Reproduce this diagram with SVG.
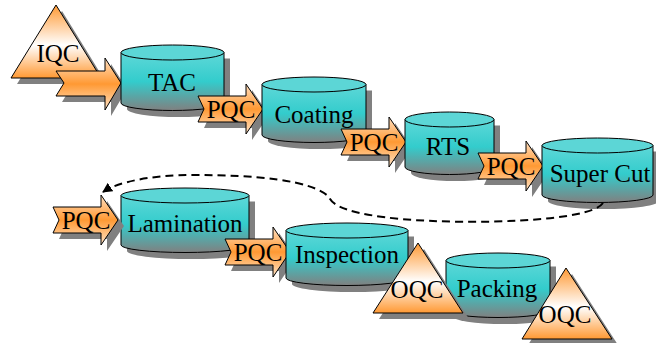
<svg xmlns="http://www.w3.org/2000/svg" width="656" height="343" viewBox="0 0 656 343">
<style>
.sh{fill:#808080;stroke:none}
.cyl{fill:url(#gCyl);stroke:#000;stroke-width:1}
.top{fill:#5cd6d6;stroke:#000;stroke-width:1}
.tri{fill:url(#gTri);stroke:#000;stroke-width:1}
.arr{fill:url(#gArr);stroke:#000;stroke-width:1}
.t{font-family:"Times New Roman",Times,"Liberation Serif",Tinos,"Nimbus Roman",serif;font-size:25px;fill:#000;text-anchor:middle}
.conn{fill:none;stroke:#000;stroke-width:2;stroke-dasharray:8 5}
</style>
<defs>
<linearGradient id="gCyl" x1="0" y1="0" x2="0" y2="1">
<stop offset="0" stop-color="#5ed8d8"/>
<stop offset="0.5" stop-color="#33cccc"/>
<stop offset="1" stop-color="#808080"/>
</linearGradient>
<linearGradient id="gTri" x1="0" y1="0" x2="0" y2="1">
<stop offset="0" stop-color="#ff9933"/>
<stop offset="0.55" stop-color="#ffffff"/>
<stop offset="1" stop-color="#ff9933"/>
</linearGradient>
<linearGradient id="gArr" x1="0" y1="0" x2="0" y2="1">
<stop offset="0" stop-color="#ffe0c2"/>
<stop offset="0.5" stop-color="#ff9933"/>
<stop offset="1" stop-color="#ffe4c8"/>
</linearGradient>
<path id="pqc" d="M0,12 L48,12 L48,0 L65,25 L48,50 L48,38 L0,38 L6,25 Z"/>
<marker id="ah" markerWidth="10" markerHeight="10" refX="9" refY="5" orient="auto" markerUnits="userSpaceOnUse">
<path d="M0,0 L10,5 L0,10 Z" fill="#000"/>
</marker>
</defs>

<g id="iqc">
<polygon class="sh" points="62,11 17,84 107,84"/>
<polygon class="tri" points="56,5 11,78 101,78"/>
<text class="t" x="58" y="62">IQC</text>
</g>

<g id="inArrow">
<path class="sh" d="M62,77 L111,77 L111,64 L127,89 L111,116 L111,102 L62,102 L70,89 Z"/>
<path class="arr" d="M56,71 L105,71 L105,58 L121,83 L105,110 L105,96 L56,96 L64,83 Z"/>
</g>

<g id="tac">
<path class="sh" d="M127,58.5 L127,109 A51.5,8 0 0 0 230,109 L230,58.5 Z"/>
<path class="cyl" d="M121,52.5 L121,103 A51.5,7.5 0 0 0 224,103 L224,52.5 Z"/>
<ellipse class="top" cx="172.5" cy="52.5" rx="51.5" ry="7.5"/>
<text class="t" x="172" y="91">TAC</text>
</g>

<g id="pqc1">
<use href="#pqc" class="sh" x="204" y="90"/>
<use href="#pqc" class="arr" x="198" y="84"/>
<text class="t" x="231" y="118">PQC</text>
</g>

<g id="coating">
<path class="sh" d="M268,90.5 L268,141 A52,8 0 0 0 372,141 L372,90.5 Z"/>
<path class="cyl" d="M262,84.5 L262,135 A52,7.5 0 0 0 366,135 L366,84.5 Z"/>
<ellipse class="top" cx="314" cy="84.5" rx="52" ry="7.5"/>
<text class="t" x="314" y="123">Coating</text>
</g>

<g id="pqc2">
<use href="#pqc" class="sh" x="347" y="123"/>
<use href="#pqc" class="arr" x="341" y="117"/>
<text class="t" x="374" y="151">PQC</text>
</g>

<g id="rts">
<path class="sh" d="M411,125.5 L411,173 A44.5,8 0 0 0 500,173 L500,125.5 Z"/>
<path class="cyl" d="M405,119.5 L405,167 A44.5,7.5 0 0 0 494,167 L494,119.5 Z"/>
<ellipse class="top" cx="449.5" cy="119.5" rx="44.5" ry="7.5"/>
<text class="t" x="448" y="155">RTS</text>
</g>

<g id="pqc3">
<use href="#pqc" class="sh" x="484" y="147"/>
<use href="#pqc" class="arr" x="478" y="141"/>
<text class="t" x="511" y="175">PQC</text>
</g>

<g id="supercut">
<path class="sh" d="M548,151.5 L548,201 A55.5,8 0 0 0 659,201 L659,151.5 Z"/>
<path class="cyl" d="M542,145.5 L542,195 A55.5,7.5 0 0 0 653,195 L653,145.5 Z"/>
<ellipse class="top" cx="597.5" cy="145.5" rx="55.5" ry="7.5"/>
<text class="t" x="600" y="182">Super Cut</text>
</g>

<g id="connectors">
<path class="conn" marker-end="url(#ah)" d="M603,203 C590,222 470,225 400,219 C352,214 333,207 329,197 C312,180 255,175 195,175 C150,175 118,182 103,192"/>
</g>

<g id="lamination">
<path class="sh" d="M127,201.5 L127,251 A64,8 0 0 0 255,251 L255,201.5 Z"/>
<path class="cyl" d="M121,195.5 L121,245 A64,7.5 0 0 0 249,245 L249,195.5 Z"/>
<ellipse class="top" cx="185" cy="195.5" rx="64" ry="7.5"/>
<text class="t" x="185" y="232">Lamination</text>
</g>

<g id="pqc4">
<use href="#pqc" class="sh" x="59" y="201"/>
<use href="#pqc" class="arr" x="53" y="195"/>
<text class="t" x="86" y="229">PQC</text>
</g>

<g id="pqc5">
<use href="#pqc" class="sh" x="231" y="233"/>
<use href="#pqc" class="arr" x="225" y="227"/>
<text class="t" x="258" y="261">PQC</text>
</g>

<g id="inspection">
<path class="sh" d="M292,236.5 L292,284 A61,8 0 0 0 414,284 L414,236.5 Z"/>
<path class="cyl" d="M286,230.5 L286,278 A61,7.5 0 0 0 408,278 L408,230.5 Z"/>
<ellipse class="top" cx="347" cy="230.5" rx="61" ry="7.5"/>
<text class="t" x="347" y="263">Inspection</text>
</g>

<g id="packing">
<path class="sh" d="M452,266.5 L452,316 A52,8 0 0 0 556,316 L556,266.5 Z"/>
<path class="cyl" d="M446,260.5 L446,310 A52,7.5 0 0 0 550,310 L550,260.5 Z"/>
<ellipse class="top" cx="498" cy="260.5" rx="52" ry="7.5"/>
<text class="t" x="497" y="297">Packing</text>
</g>

<g id="oqc1">
<polygon class="sh" points="424,249 379,319 469,319"/>
<polygon class="tri" points="418,243 373,313 463,313"/>
<text class="t" x="417" y="298">OQC</text>
</g>

<g id="oqc2">
<polygon class="sh" points="572,274 528,345 618,345"/>
<polygon class="tri" points="566,268 522,339 612,339"/>
<text class="t" x="565" y="323">OQC</text>
</g>
</svg>
